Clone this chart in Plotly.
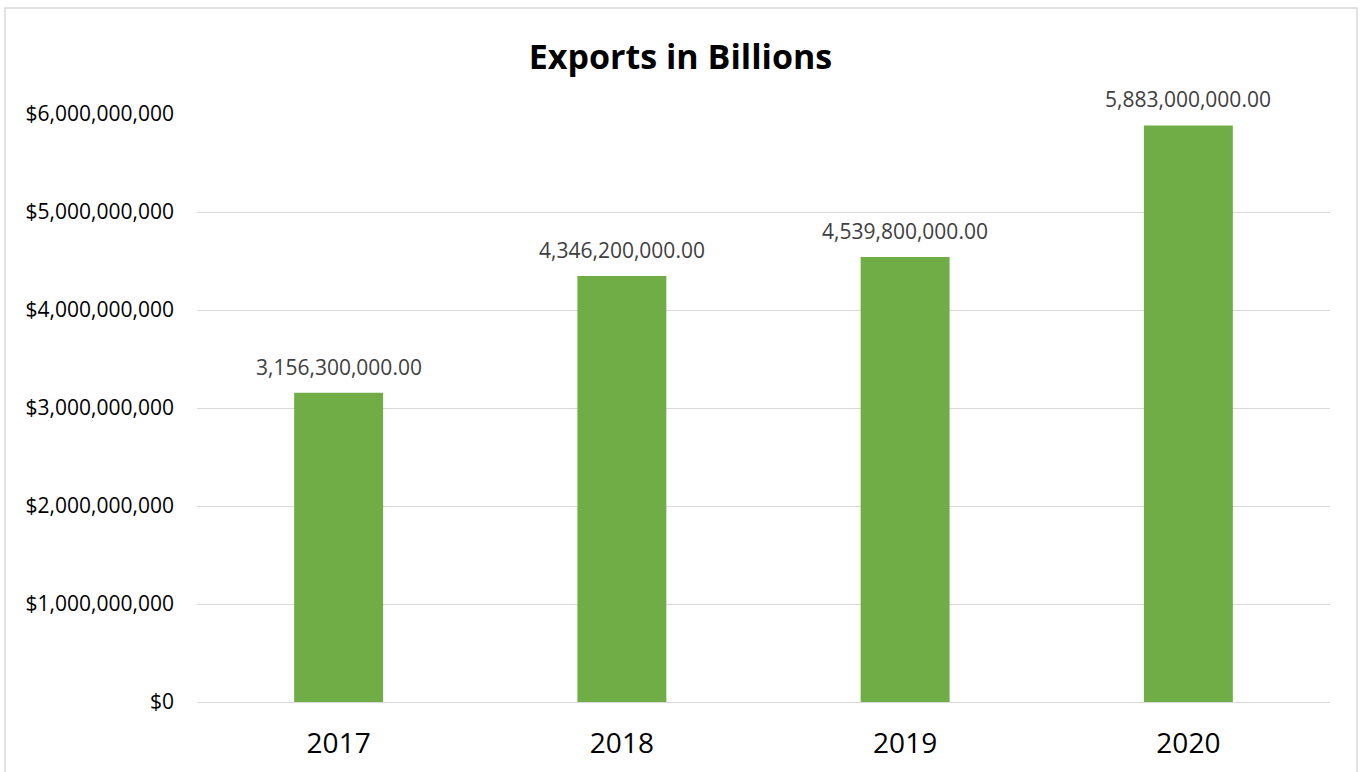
import plotly.graph_objects as go

years = ["2017", "2018", "2019", "2020"]
exports = [3156300000, 4346200000, 4539800000, 5883000000]
tick_values = [0, 1e9, 2e9, 3e9, 4e9, 5e9, 6e9]
tick_labels = ["$0", "$1,000,000,000", "$2,000,000,000", "$3,000,000,000",
               "$4,000,000,000", "$5,000,000,000", "$6,000,000,000"]

W, H = 1361, 772
ML, MR, MT, MB = 197, 31, 114, 70
pw, ph = W - ML - MR, H - MT - MB

font = "'Open Sans', sans-serif"

fig = go.Figure(go.Bar(
    x=years,
    y=exports,
    marker=dict(color="#70ad47", line=dict(width=0)),
    width=0.314,
    textposition="none",
    cliponaxis=False,
))

# value labels above each bar (category axis: position by index)
for i, v in enumerate(exports):
    fig.add_annotation(x=i, y=v, xref="x", yref="y", text=f"{v:,.2f}",
                       showarrow=False, yanchor="bottom", yshift=10,
                       font=dict(family=font, size=21, color="#404040"))

fig.update_layout(
    width=W, height=H,
    margin=dict(l=ML, r=MR, t=MT, b=MB, autoexpand=False),
    paper_bgcolor="white", plot_bgcolor="white",
    showlegend=False,
    title=dict(text="<b>Exports in Billions</b>", x=0.5, xanchor="center",
               y=1 - 57 / H, yanchor="middle",
               font=dict(family=font, size=34, color="black")),
    xaxis=dict(type="category", range=[-0.5, 3.5],
               showgrid=False, showline=False, ticks="",
               ticklabelstandoff=22,
               tickfont=dict(family=font, size=28, color="black")),
    yaxis=dict(range=[0, 6e9], tickvals=tick_values, ticktext=tick_labels,
               showgrid=True, gridcolor="#d9d9d9", gridwidth=1.3,
               zeroline=True, zerolinecolor="#d9d9d9", zerolinewidth=1.3,
               showline=False, ticks="", ticklen=0,
               ticklabelstandoff=22,
               tickfont=dict(family=font, size=21, color="black")),
    bargap=0.686,
    shapes=[dict(type="rect", xref="paper", yref="paper",
                 x0=(5 - ML) / pw, x1=(1357 - ML) / pw,
                 y0=(H - MB - 790) / ph, y1=(H - MB - 8) / ph,
                 line=dict(color="#d9d9d9", width=1.5), layer="below")],
)

fig.write_html("out.html")
